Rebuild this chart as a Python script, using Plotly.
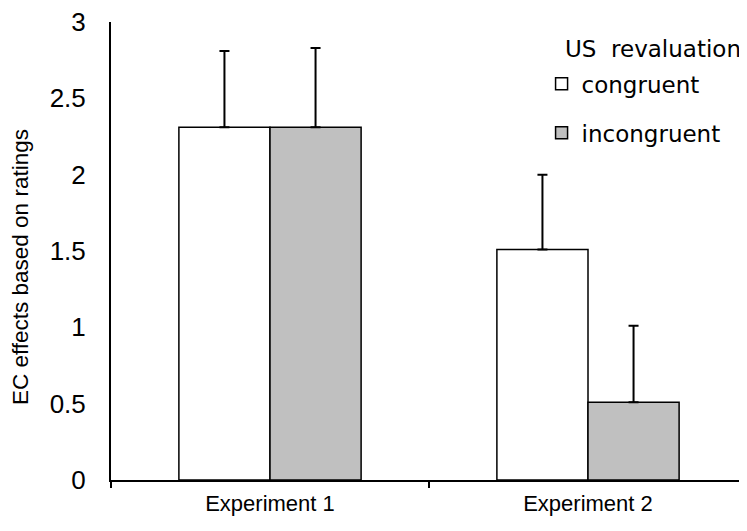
import plotly.graph_objects as go

categories = ["Experiment 1", "Experiment 2"]
congruent = [2.31, 1.51]
congruent_err = [0.50, 0.49]
incongruent = [2.31, 0.51]
incongruent_err = [0.52, 0.50]
y_ticks = [0, 0.5, 1, 1.5, 2, 2.5, 3]
y_tick_labels = ["0", "0.5", "1", "1.5", "2", "2.5", "3"]
legend_title = "US  revaluation"
y_title = "EC effects based on ratings"

FONT = "Liberation Sans, Arial, sans-serif"

fig = go.Figure()
fig.add_trace(go.Bar(
    x=categories, y=congruent, name="congruent", legendgroup="a",
    marker=dict(color="white", line=dict(color="black", width=1.5)),
    error_y=dict(type="data", array=congruent_err, arrayminus=[0, 0], symmetric=False,
                 color="black", thickness=2, width=5),
))
fig.add_trace(go.Bar(
    x=categories, y=incongruent, name="incongruent", legendgroup="b",
    marker=dict(color="#C0C0C0", line=dict(color="black", width=1.5)),
    error_y=dict(type="data", array=incongruent_err, arrayminus=[0, 0], symmetric=False,
                 color="black", thickness=2, width=5),
))

fig.update_layout(
    width=739, height=523,
    margin=dict(l=103, r=0, t=14, b=51, autoexpand=False),
    paper_bgcolor="white", plot_bgcolor="white",
    barmode="group", bargap=0.427, bargroupgap=0,
    font=dict(family=FONT, size=20, color="black"),
    showlegend=True,
    legend=dict(
        x=0.677, y=0.912, xanchor="left", yanchor="top",
        font=dict(size=23, family="DejaVu Sans"), traceorder="grouped", tracegroupgap=16,
        bgcolor="rgba(0,0,0,0)", itemwidth=30,
    ),
    annotations=[
        dict(
            text=legend_title, xref="paper", yref="paper", x=0.711, y=0.942,
            xanchor="left", yanchor="middle", showarrow=False,
            font=dict(size=23, family="DejaVu Sans", color="black"),
        ),
        dict(
            text=y_title, xref="paper", yref="paper", x=-0.143, y=0.465,
            xanchor="center", yanchor="middle", textangle=-90, showarrow=False,
            font=dict(size=22.5, family=FONT, color="black"),
        ),
    ],
)
fig.update_xaxes(
    type="category", range=[-0.5, 1.5], automargin=False,
    showline=True, linecolor="black", linewidth=2,
    ticks="outside", tickson="boundaries", ticklen=6, tickcolor="black", tickwidth=1.5,
    ticklabelstandoff=3, tickfont=dict(size=22), showgrid=False, zeroline=False,
)
fig.update_yaxes(
    range=[0, 3], tickvals=y_ticks, ticktext=y_tick_labels, automargin=False,
    showline=True, linecolor="black", linewidth=2, ticklabeloverflow="allow",
    ticks="", ticklabelstandoff=18, tickfont=dict(size=26),
    showgrid=False, zeroline=False,
)

fig.write_html("out.html")
